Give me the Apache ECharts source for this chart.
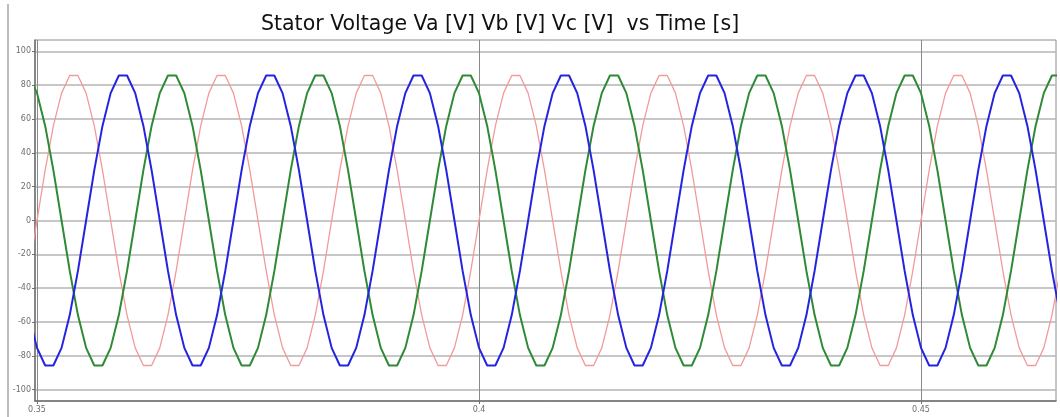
<!DOCTYPE html>
<html>
<head>
<meta charset="utf-8">
<script src="https://cdn.jsdelivr.net/npm/echarts@6/dist/echarts.min.js"></script>
<style>
  html, body { margin: 0; padding: 0; background: #fff; }
  #chart { width: 1060px; height: 417px; }
</style>
</head>
<body>
<div id="chart"></div>
<script>
// time stamps [s], read along the x axis
const timeS = [
  0.349074,
  0.350000, 0.350926, 0.351852, 0.352778, 0.353704, 0.354630, 0.355556, 0.356481, 0.357407, 0.358333, 0.359259, 0.360185, 0.361111, 0.362037, 0.362963, 0.363889, 0.364815, 0.365741,
  0.366667, 0.367593, 0.368519, 0.369444, 0.370370, 0.371296, 0.372222, 0.373148, 0.374074, 0.375000, 0.375926, 0.376852, 0.377778, 0.378704, 0.379630, 0.380556, 0.381481, 0.382407,
  0.383333, 0.384259, 0.385185, 0.386111, 0.387037, 0.387963, 0.388889, 0.389815, 0.390741, 0.391667, 0.392593, 0.393519, 0.394444, 0.395370, 0.396296, 0.397222, 0.398148, 0.399074,
  0.400000, 0.400926, 0.401852, 0.402778, 0.403704, 0.404630, 0.405556, 0.406481, 0.407407, 0.408333, 0.409259, 0.410185, 0.411111, 0.412037, 0.412963, 0.413889, 0.414815, 0.415741,
  0.416667, 0.417593, 0.418519, 0.419444, 0.420370, 0.421296, 0.422222, 0.423148, 0.424074, 0.425000, 0.425926, 0.426852, 0.427778, 0.428704, 0.429630, 0.430556, 0.431481, 0.432407,
  0.433333, 0.434259, 0.435185, 0.436111, 0.437037, 0.437963, 0.438889, 0.439815, 0.440741, 0.441667, 0.442593, 0.443519, 0.444444, 0.445370, 0.446296, 0.447222, 0.448148, 0.449074,
  0.450000, 0.450926, 0.451852, 0.452778, 0.453704, 0.454630, 0.455556, 0.456481, 0.457407, 0.458333, 0.459259, 0.460185, 0.461111, 0.462037, 0.462963, 0.463889, 0.464815, 0.465741
];

// Va [V] (pink)
const va = [
  -29.8,
  0, 29.8, 55.9, 75.3, 85.7, 85.7, 75.3, 55.9, 29.8, 0, -29.8, -55.9, -75.3, -85.7, -85.7, -75.3, -55.9, -29.8,
  0, 29.8, 55.9, 75.3, 85.7, 85.7, 75.3, 55.9, 29.8, 0, -29.8, -55.9, -75.3, -85.7, -85.7, -75.3, -55.9, -29.8,
  0, 29.8, 55.9, 75.3, 85.7, 85.7, 75.3, 55.9, 29.8, 0, -29.8, -55.9, -75.3, -85.7, -85.7, -75.3, -55.9, -29.8,
  0, 29.8, 55.9, 75.3, 85.7, 85.7, 75.3, 55.9, 29.8, 0, -29.8, -55.9, -75.3, -85.7, -85.7, -75.3, -55.9, -29.8,
  0, 29.8, 55.9, 75.3, 85.7, 85.7, 75.3, 55.9, 29.8, 0, -29.8, -55.9, -75.3, -85.7, -85.7, -75.3, -55.9, -29.8,
  0, 29.8, 55.9, 75.3, 85.7, 85.7, 75.3, 55.9, 29.8, 0, -29.8, -55.9, -75.3, -85.7, -85.7, -75.3, -55.9, -29.8,
  0, 29.8, 55.9, 75.3, 85.7, 85.7, 75.3, 55.9, 29.8, 0, -29.8, -55.9, -75.3, -85.7, -85.7, -75.3, -55.9, -29.8
];

// Vb [V] (blue)
const vb = [
  -55.9,
  -75.3, -85.7, -85.7, -75.3, -55.9, -29.8, 0, 29.8, 55.9, 75.3, 85.7, 85.7, 75.3, 55.9, 29.8, 0, -29.8, -55.9,
  -75.3, -85.7, -85.7, -75.3, -55.9, -29.8, 0, 29.8, 55.9, 75.3, 85.7, 85.7, 75.3, 55.9, 29.8, 0, -29.8, -55.9,
  -75.3, -85.7, -85.7, -75.3, -55.9, -29.8, 0, 29.8, 55.9, 75.3, 85.7, 85.7, 75.3, 55.9, 29.8, 0, -29.8, -55.9,
  -75.3, -85.7, -85.7, -75.3, -55.9, -29.8, 0, 29.8, 55.9, 75.3, 85.7, 85.7, 75.3, 55.9, 29.8, 0, -29.8, -55.9,
  -75.3, -85.7, -85.7, -75.3, -55.9, -29.8, 0, 29.8, 55.9, 75.3, 85.7, 85.7, 75.3, 55.9, 29.8, 0, -29.8, -55.9,
  -75.3, -85.7, -85.7, -75.3, -55.9, -29.8, 0, 29.8, 55.9, 75.3, 85.7, 85.7, 75.3, 55.9, 29.8, 0, -29.8, -55.9,
  -75.3, -85.7, -85.7, -75.3, -55.9, -29.8, 0, 29.8, 55.9, 75.3, 85.7, 85.7, 75.3, 55.9, 29.8, 0, -29.8, -55.9
];

// Vc [V] (green)
const vc = [
  85.7,
  75.3, 55.9, 29.8, 0, -29.8, -55.9, -75.3, -85.7, -85.7, -75.3, -55.9, -29.8, 0, 29.8, 55.9, 75.3, 85.7, 85.7,
  75.3, 55.9, 29.8, 0, -29.8, -55.9, -75.3, -85.7, -85.7, -75.3, -55.9, -29.8, 0, 29.8, 55.9, 75.3, 85.7, 85.7,
  75.3, 55.9, 29.8, 0, -29.8, -55.9, -75.3, -85.7, -85.7, -75.3, -55.9, -29.8, 0, 29.8, 55.9, 75.3, 85.7, 85.7,
  75.3, 55.9, 29.8, 0, -29.8, -55.9, -75.3, -85.7, -85.7, -75.3, -55.9, -29.8, 0, 29.8, 55.9, 75.3, 85.7, 85.7,
  75.3, 55.9, 29.8, 0, -29.8, -55.9, -75.3, -85.7, -85.7, -75.3, -55.9, -29.8, 0, 29.8, 55.9, 75.3, 85.7, 85.7,
  75.3, 55.9, 29.8, 0, -29.8, -55.9, -75.3, -85.7, -85.7, -75.3, -55.9, -29.8, 0, 29.8, 55.9, 75.3, 85.7, 85.7,
  75.3, 55.9, 29.8, 0, -29.8, -55.9, -75.3, -85.7, -85.7, -75.3, -55.9, -29.8, 0, 29.8, 55.9, 75.3, 85.7, 85.7
];

const xTicks = [0.35, 0.4, 0.45];
const yTicks = [-100, -80, -60, -40, -20, 0, 20, 40, 60, 80, 100];

function pairs(vals) {
  return timeS.map(function (t, i) { return [t, vals[i]]; });
}

const chart = echarts.init(document.getElementById('chart'), null, { renderer: 'canvas' });

const labelStyle = {
  fontFamily: 'DejaVu Sans',
  fontSize: 8,
  color: '#6e6e6e'
};

const option = {
  animation: false,
  backgroundColor: '#fff',
  title: {
    text: 'Stator Voltage Va [V] Vb [V] Vc [V]  vs Time [s]',
    left: 261,
    top: 14,
    padding: 0,
    textStyle: {
      fontFamily: 'DejaVu Sans',
      fontSize: 20.5,
      fontWeight: 'normal',
      color: '#111'
    }
  },
  graphic: [
    {
      type: 'line',
      shape: { x1: 8, y1: 4, x2: 8, y2: 417 },
      style: { stroke: '#bdbdbd', lineWidth: 2 }
    }
  ],
  grid: {
    left: 35,
    right: 4,
    top: 40,
    bottom: 16,
    show: true,
    borderColor: '#8c8c8c',
    borderWidth: 1,
    backgroundColor: '#fff'
  },
  xAxis: {
    type: 'value',
    min: 0.349774,
    max: 0.465271,
    axisLine: { onZero: false, lineStyle: { color: '#707070', width: 1.5 } },
    axisTick: { customValues: xTicks, length: 3, lineStyle: { color: '#707070' } },
    axisLabel: Object.assign({ customValues: xTicks, margin: 5 }, labelStyle),
    splitLine: { show: true, lineStyle: { color: '#8a8a8a', width: 1 } }
  },
  yAxis: {
    type: 'value',
    min: -106.7,
    max: 106.7,
    axisLine: { show: true, lineStyle: { color: '#707070', width: 1.5 } },
    axisTick: { show: true, customValues: yTicks, length: 3, lineStyle: { color: '#707070' } },
    axisLabel: Object.assign({ customValues: yTicks, margin: 4 }, labelStyle),
    splitLine: { show: true, lineStyle: { color: '#b4b4b4', width: 1.5 } }
  },
  series: [
    {
      name: 'Va',
      type: 'line',
      data: pairs(va),
      showSymbol: false,
      lineStyle: { color: '#f29a9a', width: 1.3 },
      itemStyle: { color: '#f29a9a' },
      z: 2
    },
    {
      name: 'Vc',
      type: 'line',
      data: pairs(vc),
      showSymbol: false,
      lineStyle: { color: '#2f8a36', width: 2 },
      itemStyle: { color: '#2f8a36' },
      z: 3
    },
    {
      name: 'Vb',
      type: 'line',
      data: pairs(vb),
      showSymbol: false,
      lineStyle: { color: '#2424e0', width: 2 },
      itemStyle: { color: '#2424e0' },
      z: 4
    }
  ]
};

chart.setOption(option);
</script>
</body>
</html>
